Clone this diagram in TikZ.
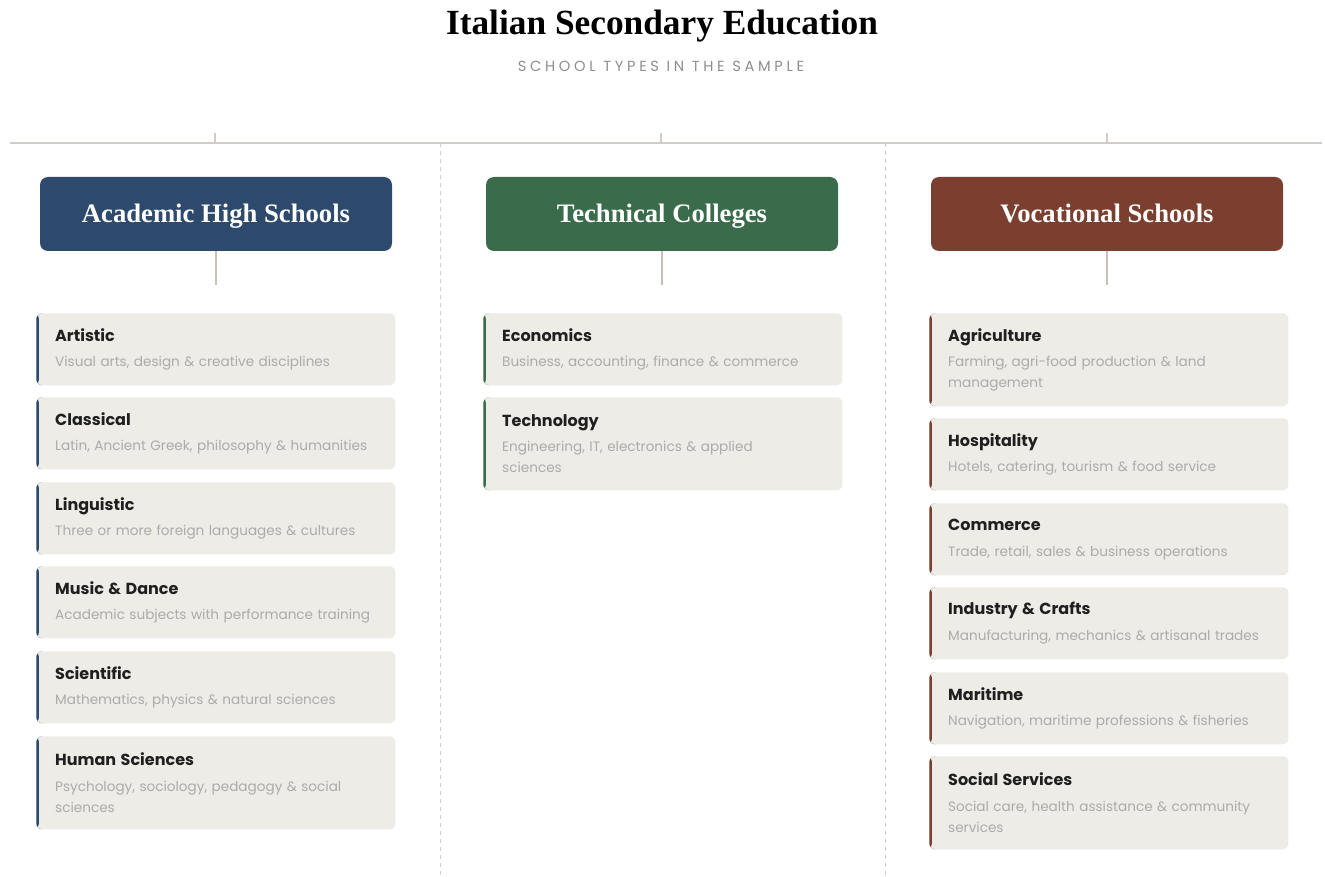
\documentclass[tikz,border=0pt]{standalone}
\usepackage{fontspec}
\setmainfont{Liberation Serif}
\setsansfont{Poppins}
\newfontfamily\spacedsans[LetterSpace=25]{Poppins}

\definecolor{acad}{HTML}{2D4A6C}
\definecolor{tech}{HTML}{3A6B4B}
\definecolor{voc}{HTML}{7A3F2E}
\definecolor{cardbg}{HTML}{EEECE7}
\definecolor{rule}{HTML}{D2CCC5}
\definecolor{stemc}{HTML}{C8C0B7}
\definecolor{ink}{HTML}{1F1F1F}
\definecolor{descgray}{HTML}{ABABAB}
\definecolor{subgray}{HTML}{8E8E8E}

\newcommand\schoolcard[2]{{\fontsize{12}{15}\selectfont\bfseries\color{ink}#1\par}\vspace{3.5pt}{\fontsize{10.2}{15.75}\selectfont\color{descgray}#2\par}}

\tikzset{
  header/.style={fill=#1, rounded corners=6pt, minimum width=264pt, minimum height=55.5pt,
    text=white, text height=13.2pt, text depth=0pt, font=\fontsize{20}{24}\selectfont\bfseries},
  card/.style={fill=cardbg, rounded corners=4.5pt, anchor=north west, text width=241pt,
    inner xsep=14.2pt, align=left, font=\sffamily,
    path picture={\fill[#1] (path picture bounding box.north west) rectangle ([xshift=2pt]path picture bounding box.south west);}},
  onerow/.style={minimum height=54pt},
  tworow/.style={minimum height=69.75pt},
  stem/.style={draw=stemc, line width=2pt},
}

\begin{document}
\begin{tikzpicture}[x=0.75pt, y=-0.75pt]
\useasboundingbox[fill=white] (0,0) rectangle (1325,877);

\node[anchor=base] (title) at (662,35) {\fontsize{26.5}{30}\selectfont\bfseries Italian Secondary Education};
\node[anchor=base, text=subgray] (subtitle) at (661,72) {\spacedsans\fontsize{11}{13}\selectfont SCHOOL TYPES IN THE SAMPLE};

\draw[rule, line width=0.9pt] (10,143) -- (1322,143);
\draw[rule, line width=1.5pt] (215,133) -- (215,143);
\draw[rule, line width=1.5pt] (661,133) -- (661,143);
\draw[rule, line width=1.5pt] (1107,133) -- (1107,143);
\draw[rule, line width=0.7pt, dash pattern=on 3pt off 3pt] (440,143) -- (440,877);
\draw[rule, line width=0.7pt, dash pattern=on 3pt off 3pt] (885,143) -- (885,877);

\node[header=acad] (acad) at (216,214) {Academic High Schools};
\node[header=tech] (tech) at (662,214) {Technical Colleges};
\node[header=voc] (voc) at (1107,214) {Vocational Schools};

\coordinate (acad-foot) at (216,285);
\coordinate (tech-foot) at (662,285);
\coordinate (voc-foot) at (1107,285);
\draw[stem] (acad) -- (acad-foot);
\draw[stem] (tech) -- (tech-foot);
\draw[stem] (voc) -- (voc-foot);

\node[card=acad, onerow] (art) at (36,313) {\schoolcard{Artistic}{Visual arts, design \& creative disciplines}};
\node[card=acad, onerow] (cla) at (36,397) {\schoolcard{Classical}{Latin, Ancient Greek, philosophy \& humanities}};
\node[card=acad, onerow] (lin) at (36,482) {\schoolcard{Linguistic}{Three or more foreign languages \& cultures}};
\node[card=acad, onerow] (mus) at (36,566) {\schoolcard{Music \& Dance}{Academic subjects with performance training}};
\node[card=acad, onerow] (sci) at (36,651) {\schoolcard{Scientific}{Mathematics, physics \& natural sciences}};
\node[card=acad, tworow] (hum) at (36,736) {\schoolcard{Human Sciences}{Psychology, sociology, pedagogy \& social\\sciences}};

\node[card=tech, onerow] (eco) at (483,313) {\schoolcard{Economics}{Business, accounting, finance \& commerce}};
\node[card=tech, tworow] (tec) at (483,397) {\schoolcard{Technology}{Engineering, IT, electronics \& applied\\sciences}};

\node[card=voc, tworow] (agr) at (929,313) {\schoolcard{Agriculture}{Farming, agri-food production \& land\\management}};
\node[card=voc, onerow] (hos) at (929,418) {\schoolcard{Hospitality}{Hotels, catering, tourism \& food service}};
\node[card=voc, onerow] (com) at (929,503) {\schoolcard{Commerce}{Trade, retail, sales \& business operations}};
\node[card=voc, onerow] (ind) at (929,587) {\schoolcard{Industry \& Crafts}{Manufacturing, mechanics \& artisanal trades}};
\node[card=voc, onerow] (mar) at (929,672) {\schoolcard{Maritime}{Navigation, maritime professions \& fisheries}};
\node[card=voc, tworow] (soc) at (929,756) {\schoolcard{Social Services}{Social care, health assistance \& community\\services}};
\end{tikzpicture}
\end{document}
